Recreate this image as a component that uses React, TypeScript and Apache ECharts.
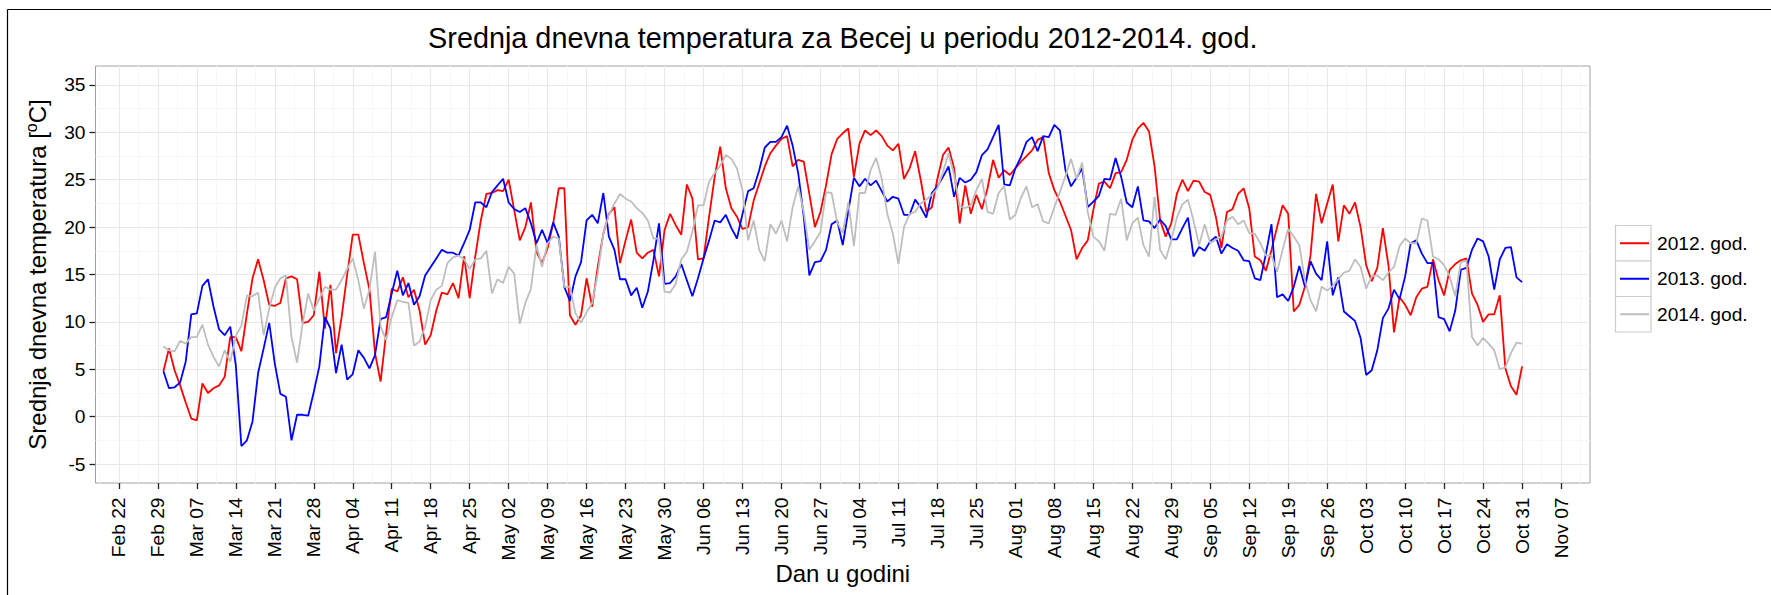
import React, { useEffect, useRef } from 'react';
import * as echarts from 'echarts';

const FONT = "'Liberation Sans', Arial, Helvetica, sans-serif";

// x positions are days counted from Feb 22; data starts on Mar 01 (day 8)
const START_DAY = 8;
const tickLabels = [
  'Feb 22', 'Feb 29', 'Mar 07', 'Mar 14', 'Mar 21', 'Mar 28', 'Apr 04', 'Apr 11', 'Apr 18', 'Apr 25',
  'May 02', 'May 09', 'May 16', 'May 23', 'May 30', 'Jun 06', 'Jun 13', 'Jun 20', 'Jun 27', 'Jul 04',
  'Jul 11', 'Jul 18', 'Jul 25', 'Aug 01', 'Aug 08', 'Aug 15', 'Aug 22', 'Aug 29', 'Sep 05', 'Sep 12',
  'Sep 19', 'Sep 26', 'Oct 03', 'Oct 10', 'Oct 17', 'Oct 24', 'Oct 31', 'Nov 07',
];
const yTicks = [-5, 0, 5, 10, 15, 20, 25, 30, 35];
const seriesNames = ['2012. god.', '2013. god.', '2014. god.'];
const seriesColors = ['#FF0000', '#0000FF', '#BEBEBE'];

const t2012 = [
  4.8, 7.2, 4.9, 3.3, 1.5, -0.2, -0.4, 3.5, 2.5, 3.0,
  3.3, 4.2, 8.4, 8.4, 6.9, 10.9, 14.6, 16.6, 14.4, 11.8,
  11.7, 12.0, 14.6, 14.8, 14.5, 9.9, 10.0, 10.7, 15.3, 9.3,
  13.9, 6.7, 10.5, 15.0, 19.2, 19.2, 16.2, 13.4, 6.7, 3.7,
  8.8, 13.5, 13.2, 14.7, 12.6, 13.4, 11.2, 7.6, 8.6, 11.2,
  13.1, 12.9, 14.1, 12.5, 16.9, 12.5, 16.9, 20.7, 23.5, 23.6,
  23.9, 23.8, 25.0, 21.8, 18.6, 20.0, 22.6, 17.4, 16.2, 17.8,
  20.4, 24.1, 24.1, 10.7, 9.7, 10.7, 14.6, 11.6, 15.8, 19.3,
  21.4, 22.1, 16.2, 18.6, 20.8, 17.3, 16.7, 17.3, 17.6, 14.8,
  19.7, 21.4, 20.2, 19.2, 24.5, 23.0, 16.6, 16.7, 21.1, 25.3,
  28.5, 24.1, 22.0, 21.1, 19.8, 20.0, 22.8, 24.6, 26.4, 27.8,
  28.6, 29.3, 29.6, 26.4, 27.1, 26.9, 23.5, 20.0, 21.6, 24.4,
  27.7, 29.3, 29.9, 30.4, 25.3, 28.8, 30.2, 29.7, 30.2, 29.6,
  28.6, 28.1, 28.8, 25.1, 26.2, 28.0, 25.0, 21.6, 22.1, 25.1,
  27.6, 28.4, 26.2, 20.4, 24.4, 21.4, 23.4, 21.9, 24.1, 27.1,
  25.2, 26.0, 25.5, 26.2, 26.9, 27.5, 28.1, 29.2, 29.5, 25.7,
  23.9, 22.7, 21.2, 19.7, 16.6, 17.8, 18.6, 21.8, 24.6, 24.8,
  24.1, 25.7, 25.8, 27.1, 29.2, 30.4, 31.0, 30.1, 26.4, 20.7,
  19.0, 20.4, 23.5, 25.0, 23.8, 24.9, 24.8, 23.7, 23.4, 21.1,
  17.8, 21.6, 21.9, 23.5, 24.1, 22.0, 16.9, 16.5, 15.4, 17.6,
  20.0, 22.3, 21.4, 11.1, 11.8, 13.7, 17.0, 23.5, 20.4, 22.5,
  24.5, 18.5, 22.3, 21.4, 22.6, 20.0, 16.0, 14.3, 15.7, 19.9,
  16.0, 8.9, 12.6, 11.8, 10.7, 12.6, 13.5, 13.7, 16.6, 14.4,
  12.8, 15.5, 16.1, 16.5, 16.7, 13.0, 11.8, 10.0, 10.8, 10.8,
  12.8, 5.1, 3.2, 2.3, 5.3,
];

const t2013 = [
  4.8, 3.0, 3.1, 3.6, 5.8, 10.8, 10.9, 13.8, 14.5, 11.6,
  9.2, 8.6, 9.5, 5.4, -3.1, -2.5, -0.5, 4.6, 7.2, 9.9,
  5.6, 2.4, 2.1, -2.5, 0.2, 0.2, 0.1, 2.6, 5.3, 10.5,
  9.3, 4.6, 7.6, 3.9, 4.5, 7.0, 6.2, 5.1, 6.5, 10.3,
  10.5, 13.0, 15.4, 12.8, 14.1, 11.8, 12.7, 14.9, 15.8, 16.7,
  17.6, 17.3, 17.3, 17.0, 18.3, 19.7, 22.6, 22.6, 22.1, 23.7,
  24.4, 25.1, 22.6, 21.9, 21.6, 22.0, 20.4, 18.3, 19.7, 18.3,
  20.5, 19.0, 13.7, 12.2, 14.8, 16.3, 20.7, 21.3, 20.4, 23.6,
  19.0, 17.6, 14.5, 14.5, 12.8, 13.6, 11.5, 13.2, 16.5, 20.4,
  14.0, 14.1, 14.8, 16.1, 14.4, 12.7, 14.6, 16.7, 18.6, 20.7,
  20.5, 21.3, 19.9, 18.8, 21.4, 23.8, 24.1, 26.0, 28.4, 29.0,
  29.0, 29.5, 30.7, 28.6, 25.7, 21.1, 14.9, 16.3, 16.4, 17.6,
  20.3, 20.7, 18.1, 21.7, 25.2, 24.3, 25.1, 24.4, 24.9, 23.8,
  22.7, 23.2, 23.0, 21.3, 21.3, 22.9, 22.1, 21.0, 23.6, 24.3,
  25.3, 26.4, 23.2, 25.2, 24.7, 25.0, 25.8, 27.6, 28.2, 29.5,
  30.8, 24.5, 24.4, 26.2, 27.4, 29.0, 29.5, 28.0, 29.6, 29.5,
  30.8, 30.2, 26.0, 24.3, 25.2, 26.2, 22.1, 22.7, 23.3, 25.1,
  25.0, 27.3, 25.3, 22.6, 22.1, 24.3, 20.7, 20.6, 19.9, 20.8,
  20.1, 18.7, 18.7, 19.9, 21.0, 16.9, 17.9, 17.5, 18.5, 19.0,
  17.2, 18.2, 17.8, 17.5, 16.5, 16.4, 14.6, 14.4, 17.2, 20.3,
  12.6, 12.9, 12.2, 13.7, 15.9, 13.7, 16.4, 15.1, 14.4, 18.5,
  12.8, 14.7, 11.1, 10.6, 10.1, 8.3, 4.4, 4.9, 7.0, 10.4,
  11.4, 13.4, 12.4, 14.8, 18.3, 18.6, 17.2, 16.2, 16.2, 10.5,
  10.3, 9.0, 11.2, 15.5, 15.7, 17.6, 18.8, 18.5, 16.9, 13.4,
  16.6, 17.8, 17.9, 14.7, 14.2,
];

const t2014 = [
  7.4, 7.0, 6.9, 8.0, 7.7, 8.4, 8.4, 9.7, 7.6, 6.3,
  5.3, 7.0, 5.8, 8.5, 9.6, 12.8, 12.7, 13.1, 8.6, 11.4,
  13.6, 14.6, 14.9, 8.4, 5.7, 9.8, 13.0, 11.2, 12.4, 13.7,
  13.4, 13.4, 14.4, 15.6, 16.7, 14.4, 11.4, 13.4, 17.4, 9.5,
  8.1, 10.5, 12.3, 12.1, 12.0, 7.5, 7.9, 9.5, 12.3, 13.4,
  13.8, 16.2, 16.8, 17.0, 16.6, 15.6, 16.6, 16.7, 17.5, 13.0,
  14.5, 14.1, 15.8, 15.1, 9.8, 12.0, 13.5, 18.1, 15.8, 18.3,
  19.0, 18.8, 13.7, 13.7, 10.9, 9.9, 11.0, 12.0, 15.1, 19.3,
  21.3, 22.5, 23.5, 23.0, 22.7, 22.0, 21.5, 20.7, 18.8, 18.8,
  13.2, 13.1, 14.0, 16.6, 17.4, 19.5, 22.3, 22.3, 24.8, 25.7,
  26.5, 27.6, 27.2, 26.2, 23.9, 18.6, 20.7, 17.6, 16.4, 20.3,
  19.3, 20.7, 18.5, 22.1, 24.3, 21.6, 17.6, 18.5, 19.5, 23.7,
  23.6, 20.5, 19.4, 22.6, 18.0, 23.6, 23.6, 26.0, 27.3, 25.1,
  21.4, 19.3, 16.1, 20.0, 21.4, 21.6, 22.5, 22.9, 23.4, 24.1,
  25.8, 27.8, 25.5, 22.2, 22.0, 22.3, 23.9, 25.1, 21.6, 21.4,
  23.6, 24.3, 20.8, 21.3, 23.1, 24.3, 22.1, 22.4, 20.6, 20.4,
  22.1, 23.7, 25.4, 27.2, 25.1, 26.8, 21.6, 19.0, 18.5, 17.5,
  21.4, 21.3, 23.0, 18.6, 20.4, 21.0, 18.1, 16.9, 23.2, 17.6,
  16.6, 18.6, 21.0, 22.4, 22.9, 20.7, 18.1, 20.3, 18.3, 18.7,
  19.0, 20.7, 21.1, 20.3, 20.7, 19.4, 19.3, 18.3, 17.0, 17.0,
  15.3, 17.6, 19.8, 19.0, 18.1, 14.4, 12.3, 11.1, 13.7, 13.3,
  13.8, 14.5, 15.2, 15.4, 16.6, 15.8, 13.5, 14.8, 14.9, 14.4,
  15.2, 15.8, 18.0, 18.8, 18.3, 18.3, 20.9, 20.7, 16.9, 16.6,
  16.0, 14.8, 12.7, 16.3, 16.5, 8.4, 7.5, 8.3, 7.7, 7.0,
  5.0, 5.2, 6.7, 7.8, 7.7,
];

const seriesValues = [t2012, t2013, t2014];

// layout (pixels)
const PANEL = { left: 95.5, top: 66, right: 1590, bottom: 483 };
const X_MIN = -4.2;
const X_MAX = 264.2;
const Y_MIN = -7;
const Y_MAX = 37;

const tickDays = tickLabels.map((_, i) => i * 7);
const minorXDays = [-3.5, ...tickDays.map((d) => d + 3.5)].filter((d) => d > X_MIN && d < X_MAX);
const minorYVals = [...yTicks.map((v) => v - 2.5), 37.5].filter((v) => v > Y_MIN && v < Y_MAX);

export default function App() {
  const ref = useRef<HTMLDivElement>(null);

  useEffect(() => {
    if (!ref.current) return;
    const chart = echarts.init(ref.current, undefined, { renderer: 'svg' });

    const gridLineData: any[] = [
      ...minorXDays.map((d) => ({ xAxis: d, lineStyle: { color: '#F7F7F7', width: 1, type: 'solid' } })),
      ...minorYVals.map((v) => ({ yAxis: v, lineStyle: { color: '#F7F7F7', width: 1, type: 'solid' } })),
      ...tickDays.map((d) => ({ xAxis: d, lineStyle: { color: '#E8E8E8', width: 1, type: 'solid' } })),
      ...yTicks.map((v) => ({ yAxis: v, lineStyle: { color: '#E8E8E8', width: 1, type: 'solid' } })),
    ];

    const dataSeries = seriesNames.map((name, k) => ({
      name,
      type: 'line',
      data: seriesValues[k].map((v, i) => [i + START_DAY, v]),
      symbol: 'none',
      showSymbol: false,
      silent: true,
      z: 2 + k,
      lineStyle: { color: seriesColors[k], width: 1.8 },
      itemStyle: { color: seriesColors[k] },
    }));

    const legendBoxes = seriesNames.map((_, k) => ({
      type: 'rect',
      shape: { x: 1615.5, y: 225.5 + k * 35.5, width: 35.5, height: 35.5 },
      style: { fill: '#FFFFFF', stroke: '#CCCCCC', lineWidth: 1.2 },
      z: 0,
    }));

    const option: any = {
      animation: false,
      textStyle: { fontFamily: FONT },
      grid: {
        left: PANEL.left,
        top: PANEL.top,
        width: PANEL.right - PANEL.left,
        height: PANEL.bottom - PANEL.top,
        show: true,
        backgroundColor: '#FFFFFF',
        borderColor: '#A0A0A0',
        borderWidth: 1,
        containLabel: false,
        outerBoundsMode: 'none',
      },
      xAxis: {
        type: 'value',
        min: X_MIN,
        max: X_MAX,
        axisLine: { show: false, onZero: false },
        axisTick: {
          show: true,
          customValues: tickDays,
          length: 6,
          lineStyle: { color: '#222222', width: 1.3 },
        },
        axisLabel: {
          show: true,
          customValues: tickDays,
          rotate: 90,
          margin: 14.5,
          fontSize: 19.2,
          fontFamily: FONT,
          color: '#000000',
          formatter: (v: number) => tickLabels[Math.round(v / 7)] ?? '',
        },
        splitLine: { show: false },
        minorSplitLine: { show: false },
      },
      yAxis: {
        type: 'value',
        min: Y_MIN,
        max: Y_MAX,
        axisLine: { show: false, onZero: false },
        axisTick: {
          show: true,
          customValues: yTicks,
          length: 6,
          lineStyle: { color: '#222222', width: 1.3 },
        },
        axisLabel: {
          show: true,
          customValues: yTicks,
          margin: 10,
          fontSize: 19.2,
          fontFamily: FONT,
          color: '#000000',
          formatter: (v: number) => String(v),
        },
        splitLine: { show: false },
      },
      legend: {
        orient: 'vertical',
        left: 1619,
        top: 225.5,
        padding: 0,
        itemGap: 0,
        itemWidth: 29,
        itemHeight: 14,
        selectedMode: false,
        data: seriesNames,
        itemStyle: { opacity: 0 },
        textStyle: {
          fontSize: 19.2,
          fontFamily: FONT,
          color: '#000000',
          lineHeight: 35.5,
          padding: [0, 0, 0, 3],
        },
      },
      graphic: [
        {
          type: 'line',
          shape: { x1: 7.5, y1: 9.5, x2: 1771, y2: 9.5 },
          style: { stroke: '#000000', lineWidth: 1.2 },
          z: 0,
        },
        {
          type: 'line',
          shape: { x1: 7.5, y1: 9.5, x2: 7.5, y2: 595 },
          style: { stroke: '#000000', lineWidth: 1.2 },
          z: 0,
        },
        ...legendBoxes,
        {
          type: 'text',
          x: (PANEL.left + PANEL.right) / 2,
          y: 38,
          style: {
            text: 'Srednja dnevna temperatura za Becej u periodu 2012-2014. god.',
            fontSize: 28.8,
            fontFamily: FONT,
            fill: '#000000',
            align: 'center',
            textAlign: 'center',
            verticalAlign: 'middle',
            textVerticalAlign: 'middle',
          },
        },
        {
          type: 'text',
          x: (PANEL.left + PANEL.right) / 2,
          y: 573,
          style: {
            text: 'Dan u godini',
            fontSize: 24,
            fontFamily: FONT,
            fill: '#000000',
            align: 'center',
            textAlign: 'center',
            verticalAlign: 'middle',
            textVerticalAlign: 'middle',
          },
        },
        {
          type: 'text',
          x: 37,
          y: (PANEL.top + PANEL.bottom) / 2,
          rotation: Math.PI / 2,
          style: {
            text: '{a|Srednja dnevna temperatura [}{s|o}{a|C]}',
            fontSize: 24,
            fontFamily: FONT,
            fill: '#000000',
            align: 'center',
            textAlign: 'center',
            verticalAlign: 'middle',
            textVerticalAlign: 'middle',
            rich: {
              a: { fontSize: 24, fontFamily: FONT, fill: '#000000', lineHeight: 28 },
              s: { fontSize: 16, fontFamily: FONT, fill: '#000000', verticalAlign: 'top', lineHeight: 16 },
            },
          },
        },
      ],
      series: [
        {
          name: '__grid',
          type: 'line',
          data: [],
          silent: true,
          markLine: {
            silent: true,
            z: 1,
            symbol: ['none', 'none'],
            label: { show: false },
            emphasis: { disabled: true },
            animation: false,
            data: gridLineData,
          },
        },
        ...dataSeries,
      ],
    };

    chart.setOption(option);
    return () => {
      chart.dispose();
    };
  }, []);

  return (
    <div
      ref={ref}
      style={{ position: 'absolute', left: 0, top: 0, width: 1771, height: 595, background: '#FFFFFF' }}
    />
  );
}
